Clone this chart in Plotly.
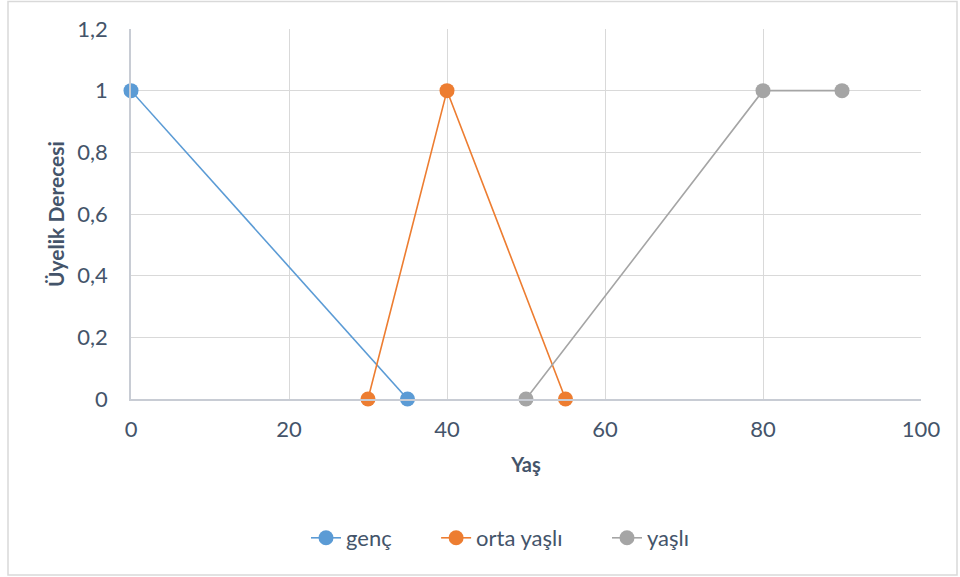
import plotly.graph_objects as go

genc_x = [0, 35]
genc_y = [1, 0]
orta_x = [30, 40, 55]
orta_y = [0, 1, 0]
yasli_x = [50, 80, 90]
yasli_y = [0, 1, 1]

series = [
    ("genç", genc_x, genc_y, "#5b9bd5"),
    ("orta yaşlı", orta_x, orta_y, "#ed7d31"),
    ("yaşlı", yasli_x, yasli_y, "#a5a5a5"),
]

TXT = "#44546a"
FONT = "Lato, Open Sans, sans-serif"
PAD = "\u00a0" * 7

fig = go.Figure()
for name, xs, ys, col in series:
    fig.add_trace(go.Scatter(
        x=xs, y=ys, name=name + PAD, mode="lines+markers",
        line=dict(color=col, width=1.6),
        marker=dict(color=col, size=15),
        cliponaxis=False,
    ))

W, H = 960, 577
L, R, T, B = 131, 921, 29, 399

def px(x):
    return (x - L) / (R - L)

def py(y):
    return (B - y) / (B - T)

fig.add_shape(type="rect", xref="paper", yref="paper",
              x0=px(8), x1=px(957), y0=py(1.5), y1=py(575),
              line=dict(color="#d9d9d9", width=1.5), layer="below")

fig.update_layout(
    width=W, height=H,
    margin=dict(l=L, r=W - R, t=T, b=H - B, autoexpand=False),
    paper_bgcolor="white", plot_bgcolor="white",
    separators=", ",
    font=dict(family=FONT, size=22, color=TXT),
    showlegend=True,
    legend=dict(orientation="h", x=px(306), xanchor="left", y=py(538), yanchor="middle",
                font=dict(size=22, color=TXT), tracegroupgap=0),
    xaxis=dict(range=[0, 100], dtick=20, showgrid=True, gridcolor="#d9d9d9",
               zeroline=False, showline=True, linecolor="#c8ccd4", linewidth=1.5,
               ticks="", ticklabelstandoff=10, automargin=False,
               title=dict(text="<b>Yaş</b>", font=dict(size=20, color=TXT), standoff=17)),
    yaxis=dict(range=[0, 1.2], dtick=0.2, showgrid=True, gridcolor="#d9d9d9",
               zeroline=False, showline=True, linecolor="#c8ccd4", linewidth=1.5,
               ticks="", ticklabelstandoff=17, automargin=False,
               title=dict(text="<b>Üyelik Derecesi</b>", font=dict(size=21, color=TXT), standoff=7)),
)

fig.write_html("out.html", config={"displayModeBar": False},
               post_script="document.body.style.margin='0';")
